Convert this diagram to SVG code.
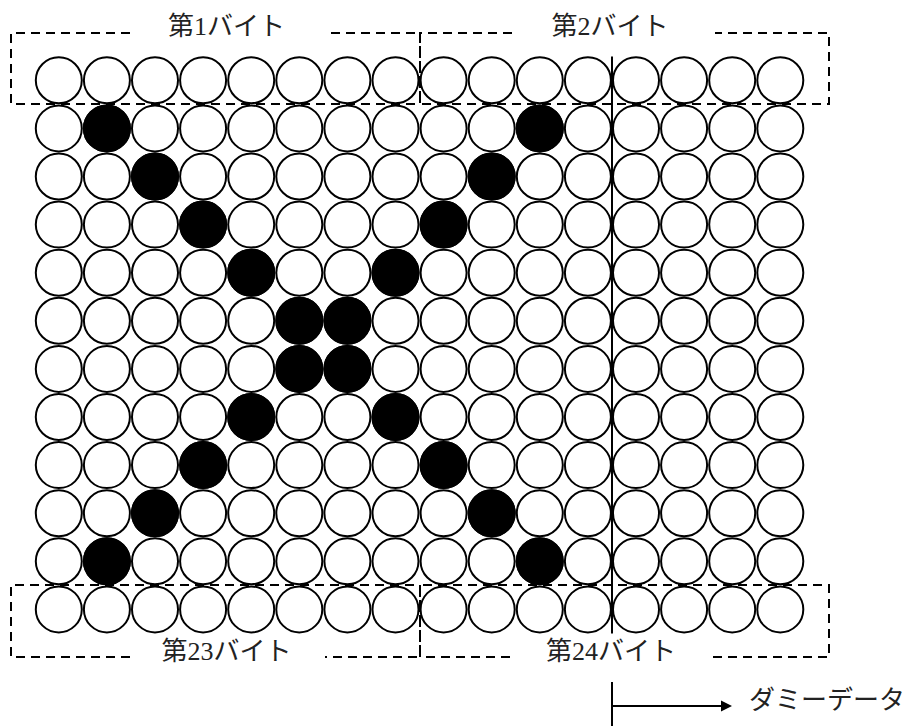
<svg xmlns="http://www.w3.org/2000/svg" xmlns:xlink="http://www.w3.org/1999/xlink" width="908" height="726" viewBox="0 0 908 726">
<style>
.w{fill:#fff;stroke:#000;stroke-width:2}
.b{fill:#000;stroke:#000;stroke-width:2}
.box{fill:none;stroke:#000;stroke-width:2;stroke-dasharray:9 6}
.lbl{font-family:"Liberation Serif","Noto Sans CJK JP",serif;font-size:26px;fill:#222;text-anchor:middle}
.ln{stroke:#000;stroke-width:2;fill:none}
</style>
<defs>
<circle id="cw" r="23" class="w"/>
<circle id="cb" r="23" class="b"/>
<g id="rowW">
<use xlink:href="#cw" x="58.8"/><use xlink:href="#cw" x="106.9"/><use xlink:href="#cw" x="155"/><use xlink:href="#cw" x="203.1"/><use xlink:href="#cw" x="251.2"/><use xlink:href="#cw" x="299.3"/><use xlink:href="#cw" x="347.4"/><use xlink:href="#cw" x="395.5"/><use xlink:href="#cw" x="443.6"/><use xlink:href="#cw" x="491.7"/><use xlink:href="#cw" x="539.8"/><use xlink:href="#cw" x="587.9"/><use xlink:href="#cw" x="636"/><use xlink:href="#cw" x="684.1"/><use xlink:href="#cw" x="732.2"/><use xlink:href="#cw" x="780.3"/>
</g>
</defs>
<rect width="908" height="726" fill="#fff"/>
<g id="grid">
<g id="row0"><use xlink:href="#rowW" y="80.3"/></g>
<g id="row1"><use xlink:href="#rowW" y="128.4"/><use xlink:href="#cb" x="106.9" y="128.4"/><use xlink:href="#cb" x="539.8" y="128.4"/></g>
<g id="row2"><use xlink:href="#rowW" y="176.5"/><use xlink:href="#cb" x="155" y="176.5"/><use xlink:href="#cb" x="491.7" y="176.5"/></g>
<g id="row3"><use xlink:href="#rowW" y="224.6"/><use xlink:href="#cb" x="203.1" y="224.6"/><use xlink:href="#cb" x="443.6" y="224.6"/></g>
<g id="row4"><use xlink:href="#rowW" y="272.7"/><use xlink:href="#cb" x="251.2" y="272.7"/><use xlink:href="#cb" x="395.5" y="272.7"/></g>
<g id="row5"><use xlink:href="#rowW" y="320.8"/><use xlink:href="#cb" x="299.3" y="320.8"/><use xlink:href="#cb" x="347.4" y="320.8"/></g>
<g id="row6"><use xlink:href="#rowW" y="368.9"/><use xlink:href="#cb" x="299.3" y="368.9"/><use xlink:href="#cb" x="347.4" y="368.9"/></g>
<g id="row7"><use xlink:href="#rowW" y="417"/><use xlink:href="#cb" x="251.2" y="417"/><use xlink:href="#cb" x="395.5" y="417"/></g>
<g id="row8"><use xlink:href="#rowW" y="465.1"/><use xlink:href="#cb" x="203.1" y="465.1"/><use xlink:href="#cb" x="443.6" y="465.1"/></g>
<g id="row9"><use xlink:href="#rowW" y="513.2"/><use xlink:href="#cb" x="155" y="513.2"/><use xlink:href="#cb" x="491.7" y="513.2"/></g>
<g id="row10"><use xlink:href="#rowW" y="561.3"/><use xlink:href="#cb" x="106.9" y="561.3"/><use xlink:href="#cb" x="539.8" y="561.3"/></g>
<g id="row11"><use xlink:href="#rowW" y="609.4"/></g>
</g>
<g id="byte1">
<path class="box" d="M130,33 H11 V104 H420 V33 H325"/>
<text class="lbl" x="226.5" y="35">第1バイト</text>
</g>
<g id="byte2">
<path class="box" d="M512,33 H420 V104 H829 V33 H715"/>
<text class="lbl" x="610" y="35">第2バイト</text>
</g>
<g id="byte23">
<path class="box" d="M130,657 H11 V585 H420 V657 H325"/>
<text class="lbl" x="226.5" y="660">第23バイト</text>
</g>
<g id="byte24">
<path class="box" d="M510,657 H420 V585 H829 V657 H712"/>
<text class="lbl" x="611" y="660">第24バイト</text>
</g>
<g id="connectors">
<line class="ln" x1="612" y1="56.5" x2="612" y2="633.5"/>
<line class="ln" x1="612" y1="682" x2="612" y2="726"/>
<line class="ln" x1="612" y1="706" x2="722" y2="706"/>
<polygon points="732,706 721,700.5 721,711.5" fill="#000"/>
</g>
<g id="dummy">
<text class="lbl" x="749" y="709" style="text-anchor:start">ダミーデータ</text>
</g>
</svg>
